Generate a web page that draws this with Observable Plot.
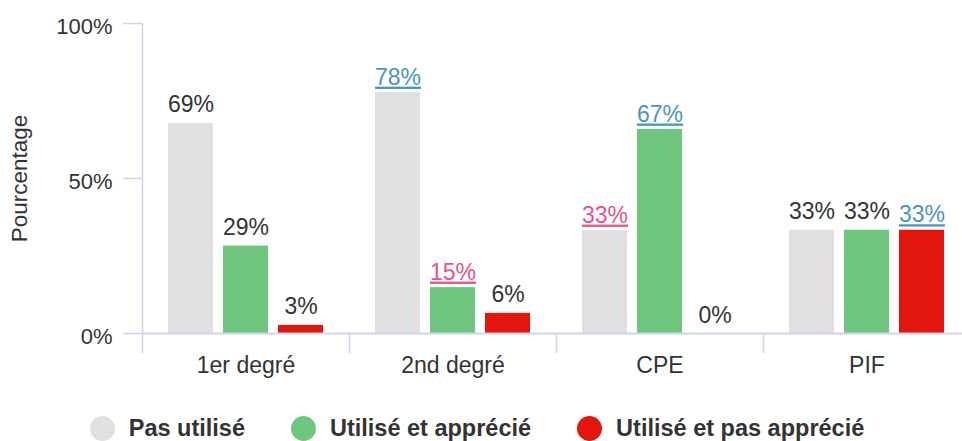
<!DOCTYPE html>
<html>
<head>
<meta charset="utf-8">
<script src="https://cdn.jsdelivr.net/npm/d3@7"></script>
<script src="https://cdn.jsdelivr.net/npm/@observablehq/plot@0.6"></script>
<style>
  html, body { margin: 0; padding: 0; background: #fff; overflow: hidden; }
  body { font-family: "Liberation Sans", Arial, sans-serif; width: 962px; }
  #chart svg { overflow: hidden; max-width: none; }
  g[aria-description="hl"] text {
    text-decoration: underline;
    text-decoration-thickness: 3px;
    text-underline-offset: 2px;
  }
  .legend { display: flex; justify-content: center; align-items: center; height: 51px; padding-top: 26px; padding-right: 8px; box-sizing: border-box; }
  .legend .item { display: flex; align-items: center; font-weight: bold; font-size: 23.5px; color: #333; margin: 0 23px; }
  .legend .dot { width: 25px; height: 25px; border-radius: 50%; margin-right: 14px; display: inline-block; }
</style>
</head>
<body>
<div id="chart"></div>
<div class="legend" id="legend"></div>
<script>
// ---- data ----
const categories = ["1er degré", "2nd degré", "CPE", "PIF"];
const series = ["Pas utilisé", "Utilisé et apprécié", "Utilisé et pas apprécié"];
const colors = ["#e0e0e0", "#70c67f", "#e3150f"];

const pasUtilise = [0.678, 0.777, 0.332, 0.333];
const utiliseApprecie = [0.282, 0.148, 0.658, 0.333];
const utilisePasApprecie = [0.026, 0.065, 0, 0.333];

const labelsPasUtilise = ["69%", "78%", "33%", "33%"];
const labelsUtiliseApprecie = ["29%", "15%", "67%", "33%"];
const labelsUtilisePasApprecie = ["3%", "6%", "0%", "33%"];

// label highlight: "" normal, "blue", "pink"
const hlPasUtilise = ["", "blue", "pink", ""];
const hlUtiliseApprecie = ["", "pink", "blue", ""];
const hlUtilisePasApprecie = ["", "", "", "blue"];

const yTicks = [0, 0.5, 1];
const yLabel = "Pourcentage";

// ---- table ----
const values = [pasUtilise, utiliseApprecie, utilisePasApprecie];
const labels = [labelsPasUtilise, labelsUtiliseApprecie, labelsUtilisePasApprecie];
const hls = [hlPasUtilise, hlUtiliseApprecie, hlUtilisePasApprecie];
const rows = [];
categories.forEach((c, i) => series.forEach((s, j) => rows.push({
  cat: c, series: s, value: values[j][i], label: labels[j][i], hl: hls[j][i]
})));

const hlColor = {blue: "#4a95c5", pink: "#e65389"};
const axisColor = "#ccd6eb";
const textColor = "#333333";

const chart = Plot.plot({
  width: 962,
  height: 390,
  marginLeft: 142,
  marginRight: 0,
  marginTop: 23,
  marginBottom: 57,
  style: {fontFamily: "'Liberation Sans', Arial, sans-serif", background: "#fff"},
  fx: {domain: categories, range: [142, 970], padding: 0, label: null},
  x: {domain: series, paddingInner: 0.19, paddingOuter: 0.46, axis: null},
  y: {domain: [0, 1], axis: null},
  color: {domain: series, range: colors},
  marks: [
    Plot.barY(rows, {fx: "cat", x: "series", y: "value", fill: "series"}),
    Plot.ruleY([0], {stroke: axisColor, strokeWidth: 2}),
    Plot.frame({anchor: "left", stroke: axisColor, strokeWidth: 1.5, insetTop: 310, insetBottom: -19}),
    Plot.frame({anchor: "left", stroke: axisColor, strokeWidth: 1.5, facetAnchor: "left"}),
    Plot.text(rows.filter(d => !d.hl), {fx: "cat", x: "series", y: "value", text: "label",
      fill: textColor, fontSize: 23, lineAnchor: "bottom", dy: -11}),
    Plot.text(rows.filter(d => d.hl), {fx: "cat", x: "series", y: "value", text: "label",
      fill: d => hlColor[d.hl], fontSize: 23, lineAnchor: "bottom", dy: -8, ariaDescription: "hl"}),
    // tick lines
    Plot.axisY({ticks: yTicks, tickFormat: () => "", tickSize: 19, stroke: axisColor, strokeWidth: 1.5, label: null}),
    // tick labels
    Plot.axisY({ticks: yTicks, tickFormat: d3.format(".0%"), tickSize: 0, tickPadding: 30,
      fill: textColor, fontSize: 22, label: null, dy: 3}),
    Plot.axisY({ticks: [], label: yLabel, labelAnchor: "center", labelOffset: 131, labelArrow: false,
      fontSize: 22.5, fill: textColor}),
    Plot.axisFx({anchor: "bottom", tickSize: 0, tickPadding: 23, fontSize: 23, fill: textColor, label: null})
  ]
});
document.getElementById("chart").appendChild(chart);

// ---- legend ----
const legend = document.getElementById("legend");
series.forEach((s, j) => {
  const item = document.createElement("span");
  item.className = "item";
  const dot = document.createElement("span");
  dot.className = "dot";
  dot.style.background = colors[j];
  item.appendChild(dot);
  item.appendChild(document.createTextNode(s));
  legend.appendChild(item);
});
</script>
</body>
</html>
